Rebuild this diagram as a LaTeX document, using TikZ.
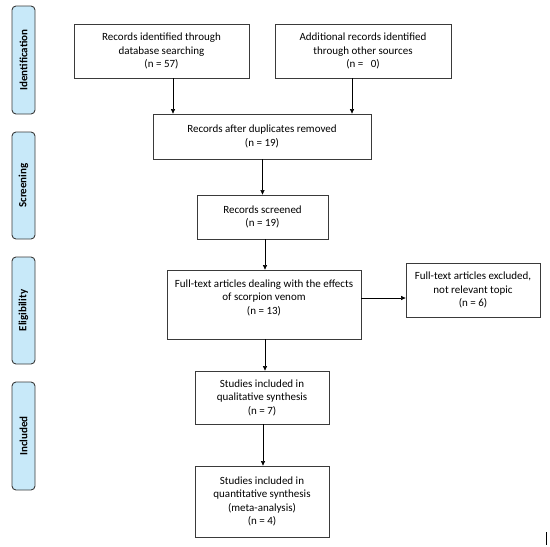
\documentclass[tikz,border=0pt]{standalone}
\usepackage{fontspec}
\setmainfont{Carlito}
\usepackage{xcolor}
\usepackage{tikz}
\usetikzlibrary{positioning, arrows.meta}

\definecolor{phasefill}{HTML}{C8E9F9}
\definecolor{boxline}{HTML}{3A3A3A}

\begin{document}
\begin{tikzpicture}[x=1pt, y=-1pt,
  box/.style={draw=boxline, line width=0.8pt, align=center, inner sep=2pt,
    font=\fontsize{11}{13.5}\selectfont},
  phase/.style={draw=boxline, line width=0.9pt, fill=phasefill, rounded corners=4pt,
    minimum height=23pt, rotate=90, font=\fontsize{11}{12}\bfseries},
  arr/.style={-{Triangle[length=4.5pt,width=4pt]}, line width=0.6pt}]
\useasboundingbox (0,0) rectangle (550,547);
% phases
\node[phase, minimum width=108pt] (ident) at (23.5,60) {Identification};
\node[phase, minimum width=107pt] (screen) at (23.5,185.5) {Screening};
\node[phase, minimum width=107pt] (elig) at (23.5,310.5) {Eligibility};
\node[phase, minimum width=108pt] (incl) at (23.5,436) {Included};
% boxes
\node[box, minimum width=175pt, minimum height=54pt] (dbase) at (161.5,51)
  {Records identified through\\ database searching\\ (n = 57)};
\node[box, minimum width=176pt, minimum height=54pt] (other) at (363,51)
  {Additional records identified\\ through other sources\\ (n =~~~0)};
\node[box, minimum width=218pt, minimum height=45pt] (dups) at (262,136.5)
  {Records after duplicates removed\\ (n = 19)};
\node[box, minimum width=131pt, minimum height=44pt] (screened) at (262.5,217)
  {Records screened\\ (n = 19)};
\node[box, minimum width=194pt, minimum height=69pt] (fulltext) at (264,304.5)
  {Full-text articles dealing with the effects\\ of scorpion venom\\ (n = 13)\\[2pt]};
\node[box, minimum width=134pt, minimum height=54pt] (excl) at (473,290)
  {Full-text articles excluded,\\ not relevant topic\\ (n = 6)};
\node[box, minimum width=134pt, minimum height=53pt] (qual) at (262,397.5)
  {Studies included in\\ qualitative synthesis\\ (n = 7)};
\node[box, minimum width=134pt, minimum height=71pt] (quant) at (262,501.5)
  {Studies included in\\ quantitative synthesis\\ (meta-analysis)\\ (n = 4)};
% connectors
\draw[arr] ([xshift=11.5pt]dbase.south) -- ([xshift=11.5pt]dbase.south |- dups.north);
\draw[arr] ([xshift=-11pt]other.south) -- ([xshift=-11pt]other.south |- dups.north);
\draw[arr] (screened.north |- dups.south) -- (screened.north);
\draw[arr] ([xshift=2.5pt]screened.south) -- ([xshift=2.5pt]screened.south |- fulltext.north);
\draw[arr] ([yshift=-8pt]excl.west -| fulltext.east) -- ([yshift=-8pt]excl.west);
\draw[arr] ([xshift=3pt]qual.north |- fulltext.south) -- ([xshift=3pt]qual.north);
\draw[arr] ([xshift=1pt]qual.south) -- ([xshift=1pt]qual.south |- quant.north);
% stray mark
\draw[line width=0.8pt] (546,532) -- (546,545);
\end{tikzpicture}
\end{document}
